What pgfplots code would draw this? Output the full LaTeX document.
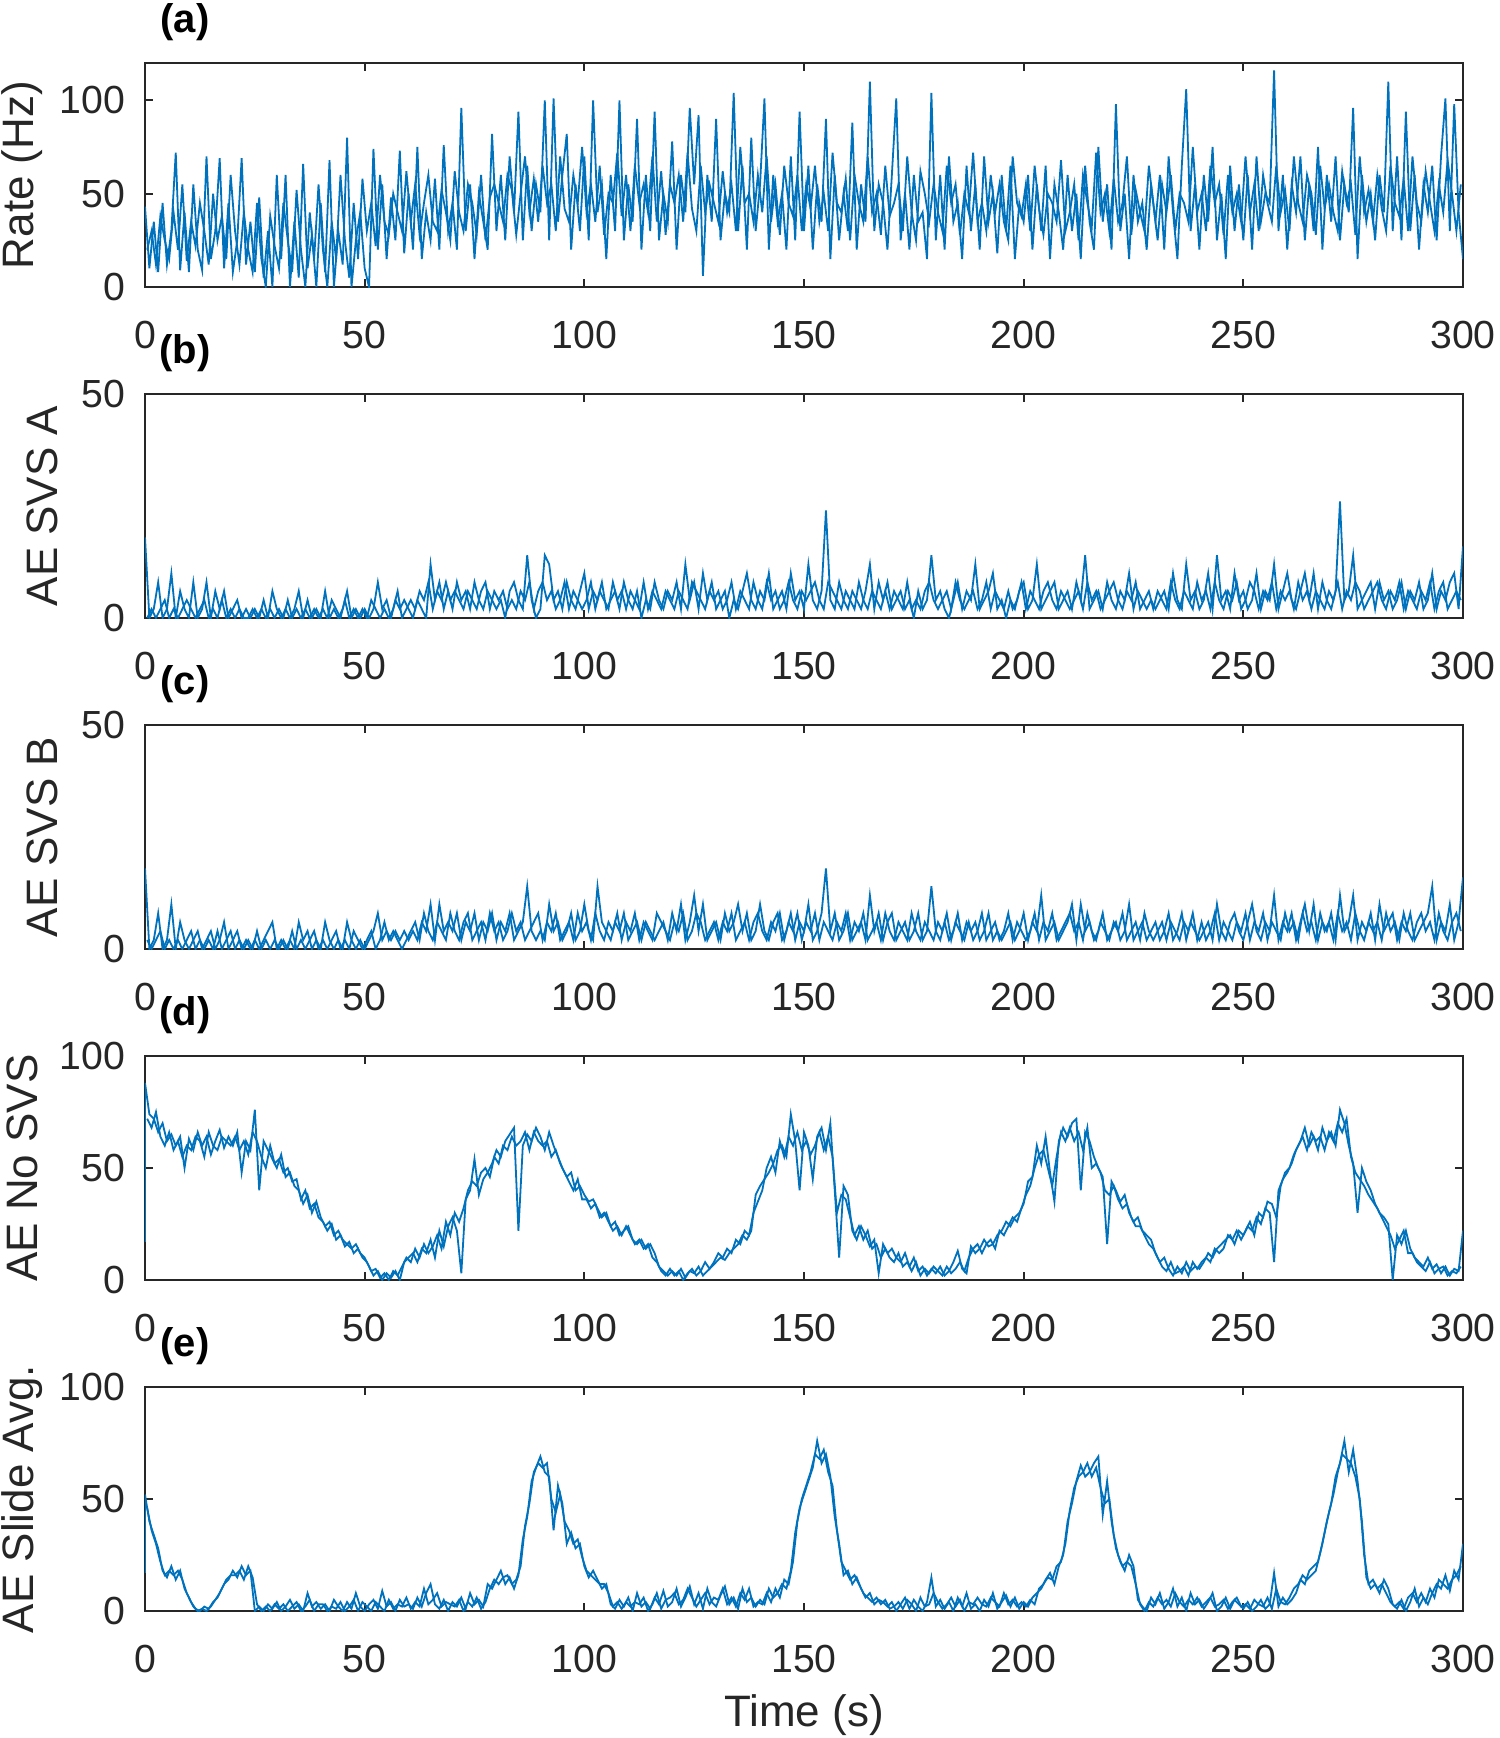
\documentclass[border=0pt]{standalone}
\usepackage{pgfplots}
\pgfplotsset{compat=1.18}
\usepackage{fontspec}
\setmainfont{Liberation Sans}
\definecolor{mblue}{RGB}{0,114,189}
\pgfplotsset{
  panel/.style={
    width=329.5pt, height=56pt, scale only axis,
    xmin=0, xmax=300, xtick={0,50,...,300},
    tick align=inside, major tick length=2pt,
    axis line style={black!85, line width=0.5pt},
    tick style={black!85, line width=0.5pt},
    /pgf/number format/assume math mode=true,
    tick label style={font=\fontsize{9.8}{11}\selectfont, text=black!85},
    xticklabel style={yshift=-5pt},
    yticklabel style={xshift=-1.5pt},
    title style={at={(axis description cs:0,1)}, anchor=center, xshift=10pt, yshift=4.25pt, font=\bfseries\fontsize{10}{12}\selectfont},
    label style={font=\fontsize{11}{13}\selectfont, text=black!85},
    anchor=north west,
  },
  sig/.style={mblue, line width=0.45pt},
}
\begin{document}
\begin{tikzpicture}
\useasboundingbox (-36.25pt,15.75pt) rectangle (338.75pt,-418.75pt);
% (a)
\begin{axis}[panel, at={(0pt,0pt)}, ymin=0, ymax=120, ytick={0,50,100}, title={(a)},
  ylabel={Rate (Hz)}, ylabel style={at={(axis description cs:-0.0933,0.5)}, anchor=center}]
\addplot[sig] table[header=false, row sep=\\, x expr=\coordindex, y index=0]{
43\\10\\35\\8\\45\\12\\30\\72\\9\\40\\
8\\55\\20\\9\\70\\15\\30\\69\\10\\45\\
8\\25\\69\\12\\35\\8\\48\\5\\30\\0\\
60\\15\\60\\0\\35\\5\\66\\10\\28\\0\\
45\\8\\68\\0\\30\\12\\80\\0\\25\\40\\
10\\0\\74\\20\\55\\15\\48\\25\\73\\18\\
50\\20\\75\\15\\40\\25\\58\\20\\76\\30\\
45\\20\\96\\30\\55\\15\\50\\35\\20\\82\\
30\\60\\25\\70\\40\\94\\25\\65\\30\\55\\
40\\100\\25\\101\\35\\60\\82\\20\\55\\30\\
70\\25\\100\\40\\55\\15\\60\\30\\100\\25\\
55\\35\\90\\20\\60\\30\\94\\25\\50\\35\\
78\\20\\60\\40\\96\\55\\92\\6\\60\\35\\
90\\25\\50\\40\\104\\30\\65\\20\\80\\30\\
55\\101\\20\\60\\35\\50\\20\\70\\25\\94\\
30\\65\\20\\55\\35\\90\\15\\60\\25\\50\\
30\\88\\20\\55\\35\\110\\30\\55\\45\\20\\
60\\101\\25\\50\\20\\60\\35\\40\\15\\104\\
25\\60\\20\\70\\35\\45\\15\\65\\30\\55\\
20\\70\\35\\50\\18\\60\\30\\65\\15\\45\\
35\\60\\20\\55\\30\\65\\15\\55\\40\\20\\
60\\30\\50\\15\\65\\35\\20\\75\\35\\55\\
20\\98\\30\\50\\15\\60\\35\\45\\20\\55\\
35\\60\\20\\70\\40\\15\\65\\106\\30\\55\\
20\\60\\35\\75\\25\\50\\15\\65\\30\\55\\
25\\60\\20\\70\\35\\50\\45\\116\\30\\60\\
20\\55\\40\\70\\25\\55\\30\\75\\20\\60\\
35\\70\\25\\55\\40\\96\\15\\60\\35\\50\\
25\\60\\40\\110\\30\\70\\25\\94\\30\\60\\
20\\55\\40\\65\\25\\70\\101\\30\\98\\40\\
15\\
};
\addplot[sig] table[header=false, row sep=\\, x expr=\coordindex+0.5, y index=0]{
20\\30\\12\\38\\25\\15\\40\\20\\55\\14\\
35\\22\\45\\30\\12\\50\\25\\38\\15\\60\\
30\\12\\40\\20\\8\\45\\15\\0\\38\\22\\
10\\45\\25\\8\\52\\20\\0\\40\\15\\55\\
20\\0\\35\\15\\60\\25\\5\\45\\15\\58\\
30\\45\\22\\60\\35\\28\\50\\40\\30\\62\\
35\\55\\28\\45\\60\\35\\30\\52\\40\\25\\
62\\40\\30\\55\\45\\28\\60\\25\\48\\55\\
45\\35\\60\\52\\28\\50\\70\\40\\58\\35\\
65\\45\\55\\30\\70\\42\\35\\60\\45\\75\\
40\\55\\35\\65\\28\\50\\45\\72\\38\\60\\
30\\65\\45\\55\\40\\70\\35\\62\\28\\55\\
45\\60\\35\\72\\42\\30\\65\\40\\55\\45\\
35\\62\\40\\55\\30\\75\\45\\50\\35\\60\\
40\\70\\35\\55\\28\\65\\45\\38\\60\\30\\
55\\42\\65\\35\\50\\30\\72\\45\\40\\58\\
25\\60\\45\\35\\70\\40\\50\\28\\65\\38\\
45\\55\\30\\70\\40\\25\\62\\50\\35\\55\\
40\\30\\65\\45\\55\\28\\50\\40\\72\\35\\
45\\30\\60\\40\\55\\35\\25\\70\\45\\38\\
55\\30\\65\\42\\28\\50\\45\\35\\68\\30\\
40\\55\\25\\60\\45\\32\\72\\40\\50\\30\\
58\\35\\45\\70\\28\\52\\40\\30\\65\\45\\
25\\55\\40\\60\\30\\50\\45\\35\\75\\40\\
50\\30\\65\\45\\55\\28\\60\\40\\50\\35\\
70\\40\\55\\30\\60\\45\\35\\65\\40\\52\\
30\\70\\45\\35\\60\\50\\28\\65\\42\\55\\
40\\30\\62\\45\\55\\28\\70\\40\\52\\35\\
60\\42\\30\\65\\45\\38\\58\\30\\70\\45\\
35\\62\\45\\30\\55\\40\\68\\50\\30\\55\\
};
\end{axis}
% (b)
\begin{axis}[panel, at={(0pt,-82.75pt)}, ymin=0, ymax=50, ytick={0,50}, title={(b)},
  ylabel={AE SVS A}, ylabel style={at={(axis description cs:-0.0781,0.5)}, anchor=center}]
\addplot[sig] table[header=false, row sep=\\, x expr=\coordindex, y index=0]{
18\\0\\2\\8\\0\\2\\10\\0\\6\\2\\
0\\8\\0\\2\\8\\0\\6\\2\\6\\0\\
2\\4\\0\\2\\0\\2\\0\\4\\0\\6\\
2\\0\\2\\0\\2\\6\\0\\4\\0\\2\\
0\\6\\0\\2\\0\\2\\6\\0\\2\\0\\
2\\0\\2\\8\\2\\4\\0\\4\\2\\4\\
2\\0\\4\\2\\0\\12\\4\\8\\2\\6\\
2\\8\\4\\6\\2\\8\\4\\2\\6\\4\\
2\\4\\0\\6\\8\\4\\2\\14\\4\\0\\
2\\14\\12\\4\\6\\2\\8\\4\\2\\6\\
10\\2\\6\\4\\8\\2\\4\\6\\2\\8\\
4\\2\\6\\0\\4\\2\\8\\4\\2\\6\\
4\\8\\2\\12\\4\\8\\2\\10\\4\\8\\
2\\4\\6\\0\\4\\2\\6\\10\\4\\2\\
6\\4\\10\\2\\4\\6\\2\\10\\4\\6\\
2\\12\\4\\2\\6\\24\\4\\2\\8\\4\\
2\\6\\4\\2\\6\\12\\2\\8\\4\\8\\
2\\4\\6\\2\\4\\0\\6\\2\\4\\14\\
4\\6\\2\\0\\4\\8\\2\\6\\4\\12\\
2\\4\\6\\10\\2\\4\\0\\4\\2\\6\\
8\\2\\4\\12\\2\\4\\6\\8\\2\\4\\
6\\2\\8\\4\\14\\2\\4\\6\\2\\8\\
4\\2\\6\\4\\10\\2\\6\\4\\2\\4\\
2\\4\\6\\2\\10\\4\\2\\12\\4\\6\\
2\\4\\10\\2\\14\\4\\6\\2\\10\\4\\
6\\2\\4\\10\\2\\6\\4\\12\\2\\6\\
10\\4\\2\\6\\10\\4\\10\\2\\8\\4\\
2\\6\\26\\4\\6\\14\\2\\4\\6\\8\\
2\\8\\4\\6\\2\\4\\8\\2\\6\\4\\
8\\2\\4\\10\\2\\6\\4\\8\\10\\2\\
16\\
};
\addplot[sig] table[header=false, row sep=\\, x expr=\coordindex+0.5, y index=0]{
0\\2\\0\\2\\4\\0\\2\\0\\2\\4\\
2\\0\\2\\4\\0\\2\\0\\4\\0\\2\\
0\\2\\0\\0\\2\\0\\2\\0\\2\\0\\
2\\0\\4\\0\\2\\0\\2\\0\\2\\0\\
2\\0\\4\\2\\0\\4\\0\\2\\0\\2\\
0\\4\\2\\0\\2\\0\\2\\6\\0\\2\\
4\\2\\6\\4\\8\\2\\6\\4\\8\\4\\
6\\4\\2\\6\\4\\2\\6\\8\\2\\6\\
4\\6\\2\\4\\2\\6\\4\\8\\2\\6\\
8\\4\\6\\2\\4\\8\\2\\6\\4\\2\\
4\\8\\2\\6\\4\\2\\8\\4\\6\\2\\
6\\4\\2\\8\\2\\6\\4\\2\\6\\4\\
2\\6\\4\\2\\8\\6\\4\\2\\6\\4\\
6\\2\\4\\8\\2\\6\\4\\2\\8\\4\\
2\\8\\4\\6\\2\\4\\8\\4\\2\\6\\
4\\6\\8\\4\\2\\8\\6\\4\\2\\6\\
4\\2\\8\\4\\2\\6\\4\\2\\6\\2\\
6\\4\\2\\8\\2\\4\\2\\6\\8\\4\\
2\\4\\6\\2\\8\\4\\2\\4\\6\\2\\
4\\8\\2\\6\\4\\2\\6\\2\\4\\8\\
2\\6\\4\\2\\6\\8\\4\\2\\6\\4\\
2\\4\\6\\2\\8\\4\\6\\2\\4\\6\\
8\\4\\2\\6\\4\\8\\2\\4\\6\\2\\
6\\4\\2\\8\\4\\2\\6\\4\\2\\8\\
4\\6\\2\\8\\4\\2\\6\\4\\8\\2\\
4\\8\\6\\2\\6\\4\\8\\2\\6\\4\\
6\\2\\8\\4\\6\\2\\6\\4\\2\\6\\
4\\8\\2\\6\\4\\8\\6\\2\\4\\6\\
8\\4\\2\\6\\4\\8\\2\\6\\4\\2\\
6\\4\\8\\2\\6\\8\\2\\4\\6\\4\\
};
\end{axis}
% (c)
\begin{axis}[panel, at={(0pt,-165.5pt)}, ymin=0, ymax=50, ytick={0,50}, title={(c)},
  ylabel={AE SVS B}, ylabel style={at={(axis description cs:-0.0781,0.5)}, anchor=center}]
\addplot[sig] table[header=false, row sep=\\, x expr=\coordindex, y index=0]{
18\\0\\2\\8\\0\\2\\10\\0\\6\\2\\
0\\2\\4\\0\\2\\4\\0\\2\\6\\0\\
2\\4\\0\\2\\0\\2\\0\\2\\4\\6\\
0\\2\\0\\2\\0\\6\\2\\4\\0\\2\\
0\\6\\2\\0\\2\\0\\6\\2\\0\\2\\
0\\2\\4\\8\\2\\4\\2\\4\\2\\4\\
2\\4\\2\\6\\4\\10\\2\\10\\4\\6\\
4\\8\\2\\6\\4\\8\\2\\6\\4\\8\\
2\\6\\4\\8\\2\\4\\6\\14\\4\\2\\
4\\2\\10\\4\\6\\2\\4\\8\\2\\4\\
10\\4\\2\\14\\6\\4\\2\\6\\4\\8\\
2\\4\\6\\2\\6\\4\\2\\4\\6\\2\\
8\\4\\10\\2\\6\\12\\4\\10\\2\\4\\
6\\2\\8\\4\\6\\10\\4\\8\\2\\4\\
10\\4\\2\\6\\8\\2\\4\\8\\2\\6\\
4\\10\\2\\4\\8\\18\\4\\8\\2\\4\\
8\\2\\4\\6\\2\\12\\4\\8\\2\\6\\
8\\2\\4\\6\\2\\4\\8\\2\\4\\14\\
4\\2\\6\\2\\4\\8\\2\\6\\4\\6\\
2\\4\\8\\2\\4\\2\\4\\6\\2\\4\\
8\\2\\6\\4\\12\\2\\4\\6\\2\\4\\
6\\10\\2\\10\\4\\6\\2\\4\\8\\2\\
4\\6\\2\\4\\10\\2\\4\\6\\2\\4\\
6\\2\\4\\8\\2\\4\\8\\2\\6\\4\\
2\\4\\6\\2\\10\\4\\2\\6\\8\\4\\
2\\6\\10\\4\\2\\6\\4\\12\\2\\6\\
4\\8\\2\\6\\10\\4\\10\\2\\6\\4\\
8\\2\\12\\4\\6\\12\\2\\6\\4\\8\\
2\\10\\4\\6\\8\\2\\6\\4\\8\\2\\
4\\6\\8\\14\\2\\6\\4\\10\\2\\6\\
16\\
};
\addplot[sig] table[header=false, row sep=\\, x expr=\coordindex+0.5, y index=0]{
2\\0\\2\\4\\0\\2\\0\\2\\0\\2\\
4\\0\\2\\0\\2\\0\\4\\0\\2\\4\\
0\\2\\0\\2\\0\\4\\0\\2\\0\\2\\
0\\2\\0\\4\\0\\2\\0\\2\\4\\0\\
2\\0\\2\\4\\0\\2\\0\\4\\2\\0\\
2\\4\\0\\2\\6\\2\\4\\2\\0\\2\\
4\\6\\2\\8\\4\\2\\6\\4\\2\\8\\
4\\2\\6\\8\\2\\4\\6\\2\\8\\4\\
6\\2\\4\\8\\4\\6\\2\\4\\6\\8\\
2\\6\\4\\8\\2\\4\\6\\2\\8\\4\\
6\\2\\8\\4\\2\\6\\4\\8\\2\\6\\
4\\8\\2\\6\\4\\2\\8\\6\\4\\2\\
6\\4\\8\\2\\4\\8\\6\\2\\4\\6\\
2\\6\\4\\8\\2\\4\\6\\2\\6\\8\\
4\\2\\6\\4\\8\\2\\6\\4\\8\\2\\
6\\4\\8\\2\\6\\4\\2\\6\\4\\8\\
2\\6\\4\\8\\2\\4\\6\\2\\8\\4\\
2\\6\\4\\2\\8\\4\\2\\6\\4\\2\\
6\\4\\8\\2\\6\\4\\2\\6\\2\\4\\
8\\2\\4\\6\\2\\4\\8\\2\\6\\4\\
2\\4\\8\\2\\6\\4\\8\\2\\4\\6\\
8\\4\\6\\2\\8\\4\\2\\6\\4\\2\\
6\\4\\8\\2\\4\\6\\2\\8\\4\\2\\
4\\6\\2\\6\\4\\2\\6\\4\\8\\2\\
6\\2\\4\\8\\2\\6\\4\\2\\6\\4\\
8\\2\\6\\4\\8\\2\\6\\4\\2\\8\\
4\\6\\2\\8\\4\\6\\2\\8\\4\\6\\
2\\8\\4\\6\\2\\8\\4\\2\\6\\4\\
6\\2\\8\\4\\6\\2\\8\\4\\2\\6\\
8\\4\\6\\2\\8\\4\\2\\6\\8\\4\\
};
\end{axis}
% (d)
\begin{axis}[panel, at={(0pt,-248.25pt)}, ymin=0, ymax=100, ytick={0,50,100}, title={(d)},
  ylabel={AE No SVS}, ylabel style={at={(axis description cs:-0.0933,0.5)}, anchor=center}]
\addplot[sig] coordinates {(0,17)(0,88)};
\addplot[sig] table[header=false, row sep=\\, x expr=\coordindex, y index=0]{
88\\74\\72\\66\\70\\62\\65\\60\\64\\50\\
63\\58\\66\\60\\64\\56\\62\\67\\59\\64\\
60\\66\\48\\62\\58\\76\\40\\62\\58\\54\\
50\\56\\46\\48\\42\\40\\34\\38\\30\\35\\
28\\24\\26\\20\\22\\18\\16\\14\\16\\12\\
10\\6\\2\\4\\0\\3\\1\\4\\0\\8\\
10\\12\\8\\14\\12\\18\\10\\22\\15\\24\\
28\\22\\3\\36\\40\\54\\38\\45\\48\\52\\
58\\55\\62\\65\\68\\22\\60\\65\\62\\68\\
64\\58\\66\\60\\55\\50\\46\\48\\40\\42\\
38\\35\\36\\32\\28\\30\\24\\26\\20\\22\\
24\\18\\16\\18\\14\\16\\12\\6\\4\\2\\
4\\2\\5\\1\\4\\3\\6\\2\\4\\6\\
8\\10\\9\\12\\14\\16\\20\\18\\22\\38\\
42\\45\\48\\52\\58\\60\\55\\74\\62\\40\\
66\\60\\45\\64\\68\\58\\70\\40\\10\\42\\
38\\22\\18\\24\\20\\15\\18\\3\\16\\12\\
14\\10\\8\\12\\6\\10\\4\\6\\2\\5\\
3\\6\\2\\4\\8\\13\\5\\3\\15\\12\\
14\\18\\15\\16\\20\\22\\26\\24\\28\\30\\
34\\44\\46\\60\\52\\64\\48\\35\\62\\68\\
64\\70\\72\\40\\66\\62\\55\\50\\46\\16\\
44\\40\\35\\38\\30\\26\\28\\22\\20\\18\\
12\\8\\10\\5\\2\\6\\3\\8\\4\\6\\
5\\8\\12\\10\\14\\16\\18\\20\\16\\22\\
20\\24\\22\\28\\25\\32\\30\\8\\40\\45\\
48\\52\\58\\62\\68\\60\\64\\58\\68\\62\\
66\\60\\76\\70\\60\\52\\30\\50\\44\\40\\
34\\30\\28\\25\\0\\20\\16\\22\\14\\10\\
8\\6\\10\\5\\7\\3\\6\\2\\5\\4\\
22\\
};
\addplot[sig] table[header=false, row sep=\\, x expr=\coordindex+0.5, y index=0]{
72\\68\\75\\64\\60\\66\\58\\62\\55\\60\\
58\\64\\62\\55\\66\\60\\58\\64\\62\\60\\
64\\58\\62\\56\\66\\62\\55\\50\\60\\52\\
54\\48\\50\\44\\45\\36\\40\\32\\34\\28\\
26\\22\\25\\18\\20\\15\\17\\12\\14\\10\\
8\\4\\5\\1\\3\\0\\4\\2\\6\\10\\
8\\14\\10\\16\\12\\15\\20\\14\\26\\20\\
30\\26\\32\\40\\44\\42\\48\\50\\46\\55\\
52\\60\\58\\64\\60\\62\\66\\58\\66\\62\\
60\\62\\55\\58\\52\\48\\44\\40\\45\\36\\
36\\32\\34\\28\\30\\26\\22\\24\\20\\24\\
20\\16\\18\\14\\16\\10\\8\\4\\2\\5\\
2\\4\\0\\3\\5\\2\\4\\8\\5\\8\\
12\\10\\14\\12\\18\\16\\22\\20\\30\\35\\
40\\50\\55\\48\\62\\55\\64\\60\\66\\58\\
62\\56\\60\\66\\58\\64\\55\\30\\38\\36\\
28\\20\\24\\18\\22\\14\\16\\10\\14\\10\\
8\\12\\6\\8\\4\\8\\2\\5\\3\\6\\
4\\2\\6\\3\\5\\8\\4\\10\\14\\16\\
12\\16\\18\\14\\22\\20\\24\\28\\26\\32\\
38\\42\\50\\56\\58\\50\\42\\55\\66\\62\\
68\\62\\66\\58\\68\\50\\52\\48\\40\\38\\
42\\36\\32\\34\\28\\24\\24\\20\\16\\14\\
10\\6\\4\\8\\3\\4\\6\\2\\8\\5\\
8\\10\\8\\14\\12\\14\\20\\18\\22\\18\\
22\\26\\20\\30\\28\\35\\34\\28\\42\\48\\
50\\56\\60\\64\\58\\66\\62\\64\\58\\66\\
62\\70\\66\\72\\55\\48\\45\\42\\38\\35\\
32\\28\\24\\20\\14\\18\\22\\12\\12\\8\\
6\\4\\8\\3\\5\\6\\2\\4\\3\\6\\
};
\end{axis}
% (e)
\begin{axis}[panel, at={(0pt,-331pt)}, ymin=0, ymax=100, ytick={0,50,100}, title={(e)},
  ylabel={AE Slide Avg.}, ylabel style={at={(axis description cs:-0.0933,0.5)}, anchor=center},
  xlabel={Time (s)}, xlabel style={at={(axis description cs:0.5,0)}, anchor=center, yshift=-26pt}]
\addplot[sig] coordinates {(0,17)(0,52)};
\addplot[sig] table[header=false, row sep=\\, x expr=\coordindex, y index=0]{
52\\40\\34\\28\\18\\15\\20\\14\\18\\10\\
6\\2\\0\\1\\0\\2\\5\\8\\12\\14\\
18\\15\\20\\16\\18\\0\\2\\0\\3\\1\\
4\\0\\2\\5\\1\\3\\0\\8\\2\\4\\
1\\3\\0\\5\\2\\0\\4\\1\\8\\2\\
0\\3\\5\\1\\9\\2\\4\\0\\5\\2\\
3\\1\\6\\2\\8\\12\\3\\1\\5\\0\\
4\\2\\6\\1\\8\\3\\5\\2\\12\\10\\
14\\18\\12\\15\\10\\16\\32\\42\\58\\64\\
69\\62\\60\\36\\56\\48\\30\\35\\28\\30\\
20\\15\\18\\14\\10\\12\\3\\1\\5\\2\\
6\\0\\8\\2\\4\\1\\6\\3\\9\\2\\
4\\10\\2\\6\\11\\3\\8\\1\\10\\4\\
2\\7\\11\\3\\6\\1\\10\\4\\6\\2\\
5\\3\\10\\6\\8\\12\\10\\18\\35\\46\\
52\\58\\64\\76\\66\\70\\60\\42\\30\\16\\
18\\12\\15\\10\\6\\8\\3\\5\\4\\2\\
4\\0\\3\\6\\1\\5\\2\\0\\4\\15\\
2\\5\\1\\4\\0\\6\\2\\8\\1\\3\\
0\\5\\2\\8\\1\\4\\7\\2\\6\\1\\
4\\2\\6\\8\\10\\14\\17\\12\\20\\25\\
40\\48\\58\\65\\60\\62\\66\\69\\43\\58\\
40\\28\\22\\18\\25\\20\\5\\2\\0\\6\\
3\\8\\1\\4\\10\\2\\6\\0\\8\\3\\
5\\1\\4\\8\\0\\2\\6\\1\\5\\3\\
1\\4\\0\\2\\5\\1\\3\\17\\2\\6\\
3\\5\\8\\14\\12\\18\\20\\22\\30\\40\\
48\\60\\66\\76\\62\\72\\58\\40\\15\\10\\
12\\8\\14\\10\\3\\1\\5\\0\\4\\10\\
2\\6\\3\\8\\12\\10\\16\\9\\18\\14\\
30\\
};
\addplot[sig] table[header=false, row sep=\\, x expr=\coordindex+0.5, y index=0]{
46\\36\\30\\22\\16\\18\\16\\18\\14\\8\\
4\\1\\0\\2\\1\\4\\6\\10\\14\\16\\
16\\18\\14\\20\\15\\3\\0\\2\\0\\3\\
1\\3\\0\\2\\4\\0\\2\\5\\0\\3\\
3\\0\\2\\1\\4\\0\\2\\5\\0\\4\\
2\\0\\4\\2\\0\\5\\1\\3\\2\\6\\
1\\4\\2\\10\\3\\5\\8\\2\\4\\3\\
2\\5\\0\\4\\2\\6\\1\\4\\10\\14\\
12\\15\\16\\12\\14\\20\\38\\48\\62\\66\\
64\\66\\50\\44\\52\\40\\36\\30\\32\\24\\
18\\16\\14\\12\\12\\8\\2\\4\\1\\4\\
2\\4\\3\\6\\0\\3\\8\\1\\5\\6\\
8\\3\\5\\10\\6\\2\\5\\8\\3\\6\\
5\\10\\3\\6\\2\\8\\5\\10\\2\\4\\
3\\8\\4\\10\\6\\14\\12\\22\\40\\50\\
56\\62\\70\\68\\72\\62\\56\\36\\22\\18\\
14\\16\\12\\8\\6\\4\\6\\3\\5\\1\\
2\\4\\1\\5\\3\\0\\6\\2\\3\\8\\
4\\1\\3\\6\\2\\5\\0\\4\\3\\6\\
3\\2\\6\\4\\2\\8\\3\\5\\2\\4\\
2\\5\\3\\10\\12\\15\\14\\20\\22\\30\\
45\\55\\60\\62\\66\\60\\64\\55\\48\\50\\
34\\25\\20\\22\\20\\12\\3\\0\\4\\2\\
6\\3\\5\\2\\8\\4\\2\\5\\3\\6\\
2\\4\\6\\2\\3\\5\\1\\4\\6\\2\\
3\\1\\5\\3\\2\\6\\1\\10\\4\\3\\
6\\10\\12\\16\\14\\16\\18\\26\\35\\44\\
52\\62\\70\\68\\66\\60\\50\\25\\12\\14\\
10\\12\\8\\4\\2\\4\\1\\6\\8\\4\\
8\\4\\10\\6\\14\\12\\10\\14\\16\\20\\
};
\end{axis}
\end{tikzpicture}
\end{document}
